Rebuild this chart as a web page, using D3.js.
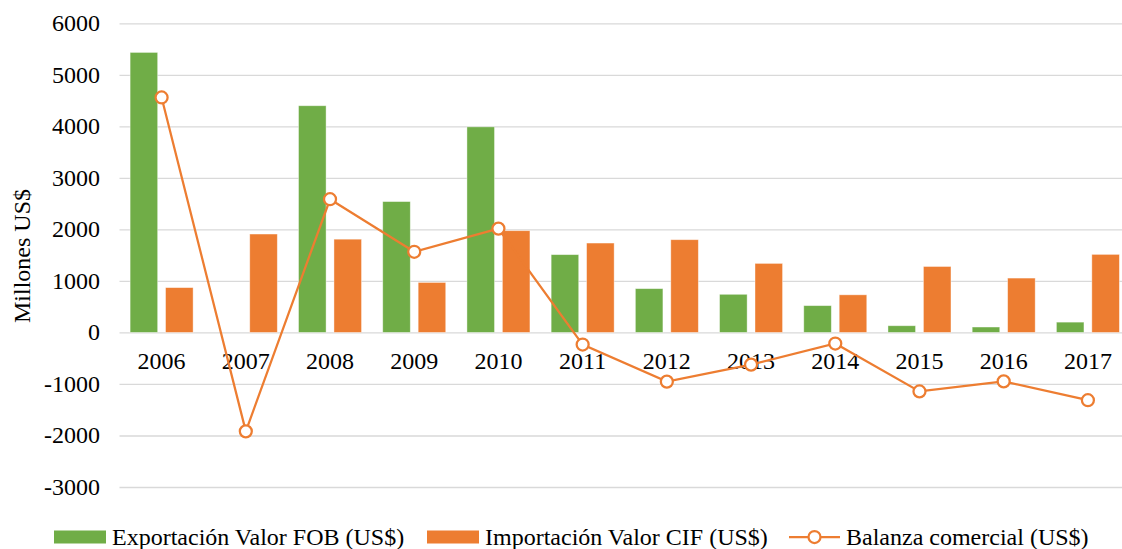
<!DOCTYPE html>
<html>
<head>
<meta charset="utf-8">
<script src="https://cdn.jsdelivr.net/npm/d3@7"></script>
<style>
  body { margin: 0; background: #fff; }
  text { font-family: "Liberation Serif", "Times New Roman", serif; fill: #000; }
</style>
</head>
<body>
<div id="chart"></div>
<script>
// Data (millions of US$)
var years = ["2006", "2007", "2008", "2009", "2010", "2011", "2012", "2013", "2014", "2015", "2016", "2017"];
var exportaciones = [5435, 0, 4400, 2540, 3990, 1510, 850, 740, 520, 130, 105, 200];
var importaciones = [870, 1910, 1810, 970, 1975, 1735, 1800, 1340, 730, 1280, 1055, 1515];
var balanza = [4560, -1920, 2585, 1565, 2015, -235, -955, -625, -215, -1145, -950, -1315];
var yTicks = [-3000, -2000, -1000, 0, 1000, 2000, 3000, 4000, 5000, 6000];

var seriesNames = ["Exportación Valor FOB (US$)", "Importación Valor CIF (US$)", "Balanza comercial (US$)"];
var green = "#70ad47", orange = "#ed7d31";

var W = 1122, H = 549;
var plot = {left: 119.5, right: 1130, top: 23.3, bottom: 487};
var fontSize = 24;

var svg = d3.select("#chart").append("svg")
    .attr("width", W)
    .attr("height", H);

var x = d3.scaleBand()
    .domain(years)
    .range([plot.left, plot.right]);

var y = d3.scaleLinear()
    .domain([-3000, 6000])
    .range([plot.bottom, plot.top]);

// the two bars of a category: 28px wide with a 7px gap, centred in the band
var barW = 28, barGap = 7;
var groupW = 2 * barW + barGap;
var xInner = d3.scaleBand()
    .domain(["exp", "imp"])
    .range([0, groupW])
    .paddingInner(barGap / (groupW / 2));
var innerOffset = (x.bandwidth() - groupW) / 2;

// Gridlines
svg.append("g")
    .attr("transform", "translate(" + plot.left + ",0)")
    .call(d3.axisLeft(y).tickValues(yTicks).tickSize(-(plot.right - plot.left)).tickFormat(""))
    .call(g => g.select(".domain").remove())
    .selectAll("line")
        .attr("stroke", "#d9d9d9")
        .attr("stroke-width", 1.3);

// Y tick labels
svg.append("g")
    .selectAll("text")
    .data(yTicks)
    .enter().append("text")
        .attr("x", 100)
        .attr("y", d => y(d))
        .attr("dy", "0.33em")
        .attr("text-anchor", "end")
        .attr("font-size", fontSize)
        .text(d => d);

// Y axis title
svg.append("text")
    .attr("transform", "translate(30,256) rotate(-90)")
    .attr("text-anchor", "middle")
    .attr("font-size", fontSize)
    .text("Millones US$");

// Bars
var bars = svg.append("g");
bars.selectAll("rect.exp")
    .data(years)
    .enter().append("rect")
        .attr("class", "exp")
        .attr("x", (d, i) => x(d) + innerOffset + xInner("exp"))
        .attr("y", (d, i) => y(Math.max(0, exportaciones[i])))
        .attr("width", xInner.bandwidth())
        .attr("height", (d, i) => Math.abs(y(exportaciones[i]) - y(0)))
        .attr("fill", green)
        .attr("stroke", "#ffffff")
        .attr("stroke-opacity", 0.5)
        .attr("stroke-width", 0.8);

bars.selectAll("rect.imp")
    .data(years)
    .enter().append("rect")
        .attr("class", "imp")
        .attr("x", (d, i) => x(d) + innerOffset + xInner("imp"))
        .attr("y", (d, i) => y(Math.max(0, importaciones[i])))
        .attr("width", xInner.bandwidth())
        .attr("height", (d, i) => Math.abs(y(importaciones[i]) - y(0)))
        .attr("fill", orange)
        .attr("stroke", "#ffffff")
        .attr("stroke-opacity", 0.5)
        .attr("stroke-width", 0.8);

// Category labels
svg.append("g")
    .selectAll("text")
    .data(years)
    .enter().append("text")
        .attr("x", d => x(d) + x.bandwidth() / 2)
        .attr("y", 369)
        .attr("text-anchor", "middle")
        .attr("font-size", fontSize)
        .text(d => d);

// Balance line
var line = d3.line()
    .x((d, i) => x(years[i]) + x.bandwidth() / 2)
    .y(d => y(d));

svg.append("path")
    .datum(balanza)
    .attr("d", line)
    .attr("fill", "none")
    .attr("stroke", orange)
    .attr("stroke-width", 2.25);

svg.append("g")
    .selectAll("circle")
    .data(balanza)
    .enter().append("circle")
        .attr("cx", (d, i) => x(years[i]) + x.bandwidth() / 2)
        .attr("cy", d => y(d))
        .attr("r", 6)
        .attr("fill", "#fff")
        .attr("stroke", orange)
        .attr("stroke-width", 2.25);

// Legend
var legendY = 537;
var legend = svg.append("g");

legend.append("rect")
    .attr("x", 54).attr("y", legendY - 6.5)
    .attr("width", 52).attr("height", 13)
    .attr("fill", green);
legend.append("text")
    .attr("x", 112).attr("y", legendY)
    .attr("dy", "0.35em")
    .attr("font-size", fontSize)
    .text(seriesNames[0]);

legend.append("rect")
    .attr("x", 427).attr("y", legendY - 6.5)
    .attr("width", 52).attr("height", 13)
    .attr("fill", orange);
legend.append("text")
    .attr("x", 485).attr("y", legendY)
    .attr("dy", "0.35em")
    .attr("font-size", fontSize)
    .text(seriesNames[1]);

legend.append("line")
    .attr("x1", 789).attr("x2", 840)
    .attr("y1", legendY).attr("y2", legendY)
    .attr("stroke", orange)
    .attr("stroke-width", 2.25);
legend.append("circle")
    .attr("cx", 814.5).attr("cy", legendY)
    .attr("r", 6)
    .attr("fill", "#fff")
    .attr("stroke", orange)
    .attr("stroke-width", 2.25);
legend.append("text")
    .attr("x", 846).attr("y", legendY)
    .attr("dy", "0.35em")
    .attr("font-size", fontSize)
    .text(seriesNames[2]);
</script>
</body>
</html>
